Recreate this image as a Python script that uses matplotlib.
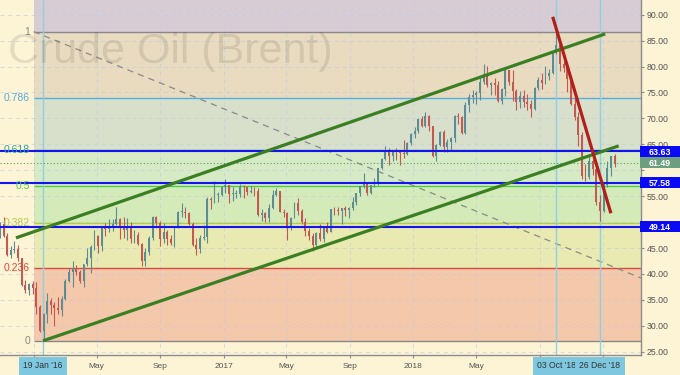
import numpy as np
import pandas as pd
import matplotlib
matplotlib.use('Agg')
import matplotlib.pyplot as plt
import matplotlib.dates as mdates
from matplotlib.patches import Rectangle
from matplotlib.transforms import blended_transform_factory

plt.rcParams['font.family'] = ['Liberation Sans', 'DejaVu Sans']

# ---------------- data ----------------
week_end = pd.date_range('2015-10-30', '2019-01-25', freq='W-FRI')

opens = [
    48.2, 49.6, 47.4, 43.6, 44.7, 44.9, 43.0, 37.9, 36.9,
    # 2016
    38.1, 37.3, 33.6, 28.9, 32.2, 34.7, 34.1, 33.4, 33.0, 35.1, 38.7, 40.4, 41.2,
    40.4, 38.7, 41.9, 43.1, 45.1, 47.4, 45.4, 48.8, 48.7, 49.3, 49.6, 50.5, 49.2,
    48.4, 49.0, 46.8, 47.6, 45.7, 42.5, 44.3, 47.0, 50.9, 49.9, 46.8, 48.0, 46.8,
    45.9, 49.1, 51.9, 52.0, 51.8, 49.7, 45.6, 44.8, 46.9, 47.2, 54.5, 54.3, 55.2, 55.2,
    # 2017
    56.8, 57.1, 55.5, 55.5, 55.5, 56.8, 56.7, 55.8, 56.0, 55.9, 51.4, 51.8, 50.8,
    52.8, 55.2, 55.9, 52.0, 51.7, 49.1, 50.8, 53.6, 52.2, 50.0, 48.2, 47.4, 45.5,
    47.9, 46.7, 48.9, 48.1, 52.5, 52.4, 52.1, 52.7, 52.4, 52.8, 53.8, 55.6, 56.9,
    57.5, 55.6, 57.2, 57.8, 60.4, 62.1, 63.5, 62.7, 63.9, 63.7, 63.4, 63.2, 65.3,
    # 2018
    66.9, 67.6, 69.9, 68.6, 70.5, 68.6, 62.8, 64.8, 67.3, 64.4, 65.5, 66.2, 70.5,
    70.3, 67.1, 72.6, 74.1, 74.6, 74.9, 77.1, 78.5, 76.4, 76.8, 76.5, 73.4, 75.6,
    79.4, 77.1, 75.3, 73.1, 74.3, 73.2, 72.8, 71.8, 75.8, 77.4, 76.8, 78.1, 78.8,
    82.7, 84.2, 80.4, 79.8, 77.6, 72.8, 70.2, 66.8, 58.8, 58.7, 61.7, 60.3, 53.8,
    # 2019
    52.2, 57.1, 60.5, 62.7,
]
highs = [
    50.1, 50.9, 47.8, 45.3, 46.4, 45.5, 43.0, 38.9, 38.2,
    38.6, 38.5, 34.0, 32.4, 36.3, 35.4, 34.5, 35.6, 35.8, 39.0, 41.2, 42.5, 41.7,
    40.8, 42.0, 45.0, 45.6, 48.5, 47.5, 48.9, 49.8, 50.5, 50.5, 52.9, 50.8, 51.0,
    50.8, 50.0, 48.5, 48.0, 46.0, 45.0, 47.3, 51.2, 51.2, 50.3, 49.9, 48.5, 47.6,
    49.3, 52.1, 53.7, 53.0, 52.0, 50.0, 46.9, 47.6, 49.5, 54.9, 54.9, 57.9, 55.8, 57.0,
    58.4, 57.1, 56.8, 56.2, 57.3, 57.1, 56.8, 57.0, 56.8, 56.6, 52.5, 52.0, 53.4,
    56.1, 56.6, 56.0, 52.6, 51.9, 51.0, 53.8, 54.7, 52.5, 50.7, 48.8, 47.8, 48.0,
    49.7, 49.0, 50.0, 52.6, 52.9, 53.0, 52.8, 53.1, 52.9, 54.9, 55.7, 57.0, 59.5,
    57.6, 57.2, 58.5, 60.5, 62.3, 64.6, 64.2, 64.0, 64.2, 64.0, 65.8, 65.5, 67.1,
    68.3, 70.1, 70.4, 71.3, 70.7, 68.6, 65.0, 67.5, 67.8, 66.1, 66.5, 70.6, 71.0,
    70.4, 73.1, 74.8, 75.5, 75.3, 78.0, 80.5, 80.2, 77.0, 77.7, 77.2, 75.8, 79.7,
    79.4, 79.4, 75.6, 75.3, 75.4, 74.8, 73.6, 76.0, 78.0, 78.8, 80.1, 79.6, 82.9,
    86.7, 85.2, 81.5, 80.6, 78.3, 73.9, 71.2, 67.4, 61.3, 63.0, 62.1, 60.8, 55.3,
    57.5, 61.7, 62.8, 63.1,
]
lows = [
    47.0, 47.2, 43.4, 43.0, 44.1, 42.5, 37.7, 36.3, 36.0,
    36.1, 32.2, 28.8, 27.1, 30.5, 32.2, 30.0, 32.2, 31.9, 35.0, 38.4, 37.5, 39.7,
    38.2, 37.5, 41.5, 40.1, 44.6, 44.0, 44.5, 47.3, 48.0, 48.3, 49.5, 46.8, 47.0,
    46.6, 46.0, 45.9, 45.6, 41.6, 41.5, 43.6, 46.6, 48.8, 45.3, 46.0, 45.6, 45.5,
    45.1, 48.8, 51.0, 50.7, 49.4, 45.3, 43.6, 44.0, 46.6, 45.9, 52.6, 53.7, 53.9, 55.0,
    55.7, 53.6, 54.1, 54.6, 54.8, 54.6, 55.2, 55.7, 55.1, 51.2, 50.3, 50.0, 50.1,
    52.6, 55.0, 51.9, 50.9, 46.6, 48.5, 50.7, 51.3, 49.7, 47.3, 46.6, 44.4, 45.1,
    46.4, 46.2, 47.9, 48.0, 51.3, 51.3, 49.7, 51.1, 50.7, 52.3, 53.3, 55.0, 56.6,
    55.3, 55.4, 56.8, 57.1, 60.2, 61.9, 61.1, 61.7, 62.0, 61.1, 62.3, 62.9, 64.9,
    66.3, 67.1, 68.3, 68.4, 67.6, 62.5, 61.8, 64.6, 63.6, 63.6, 63.7, 65.5, 68.9,
    66.9, 67.0, 71.2, 72.9, 72.7, 73.5, 76.6, 76.0, 74.5, 74.5, 73.1, 72.8, 74.3,
    76.5, 73.3, 71.6, 72.0, 72.2, 71.7, 70.3, 71.6, 75.5, 75.6, 76.6, 77.5, 78.6,
    82.5, 79.2, 78.9, 75.1, 72.5, 69.6, 64.6, 58.4, 58.0, 58.4, 59.1, 53.3, 50.3,
    52.0, 56.8, 58.8, 60.7,
]
closes = [
    49.6, 47.4, 43.6, 44.7, 44.9, 43.0, 37.9, 36.9, 38.1,
    37.3, 33.6, 28.9, 32.2, 34.7, 34.1, 33.4, 33.0, 35.1, 38.7, 40.4, 41.2, 40.4,
    38.7, 41.9, 43.1, 45.1, 47.4, 45.4, 48.8, 48.7, 49.3, 49.6, 50.5, 49.2, 48.4,
    49.0, 46.8, 47.6, 45.7, 42.5, 44.3, 47.0, 50.9, 49.9, 46.8, 48.0, 46.8, 45.9,
    49.1, 51.9, 52.0, 51.8, 49.7, 45.6, 44.8, 46.9, 47.2, 54.5, 54.3, 55.2, 55.2, 56.8,
    57.1, 55.5, 55.5, 55.5, 56.8, 56.7, 55.8, 56.0, 55.9, 51.4, 51.8, 50.8, 52.8,
    55.2, 55.9, 52.0, 51.7, 49.1, 50.8, 53.6, 52.2, 50.0, 48.2, 47.4, 45.5, 47.9,
    46.7, 48.9, 48.1, 52.5, 52.4, 52.1, 52.7, 52.4, 52.8, 53.8, 55.6, 56.9, 57.5,
    55.6, 57.2, 57.8, 60.4, 62.1, 63.5, 62.7, 63.9, 63.7, 63.4, 63.2, 65.3, 66.9,
    67.6, 69.9, 68.6, 70.5, 68.6, 62.8, 64.8, 67.3, 64.4, 65.5, 66.2, 70.5, 70.3,
    67.1, 72.6, 74.1, 74.6, 74.9, 77.1, 78.5, 76.4, 76.8, 76.5, 73.4, 75.6, 79.4,
    77.1, 75.3, 73.1, 74.3, 73.2, 72.8, 71.8, 75.8, 77.4, 76.8, 78.1, 78.8, 82.7,
    84.2, 80.4, 79.8, 77.6, 72.8, 70.2, 66.8, 58.8, 58.7, 61.7, 60.3, 53.8, 52.2,
    57.1, 60.5, 62.7, 61.49,
]

fib_low, fib_high = 27.10, 86.74
fib_ratios = [0, 0.236, 0.382, 0.5, 0.618, 0.786, 1]
fib_labels = ['0', '0.236', '0.382', '0.5', '0.618', '0.786', '1']
fib_start = '2016-01-01'

level_values = [63.63, 57.58, 49.14]
last_price = 61.49

lower_chan_x = ['2016-01-19', '2019-01-31']
lower_chan_y = [27.1, 64.7]
upper_chan_x = ['2015-11-28', '2019-01-05']
upper_chan_y = [46.95, 86.3]
red_x = ['2018-09-26', '2019-01-16']
red_y = [89.6, 51.7]
fib_trend_x = ['2016-01-01', '2019-03-15']
fib_trend_y = [86.74, 39.2]

marker_dates = ['2016-01-19', '2018-10-03', '2018-12-26']
marker_labels = ["19 Jan '16", "03 Oct '18", "26 Dec '18"]

month_ticks = ['2016-01-01', '2016-05-01', '2016-09-01', '2017-01-01', '2017-05-01',
               '2017-09-01', '2018-01-01', '2018-05-01', '2018-09-01', '2019-01-01']
month_labels = ['', 'May', 'Sep', '2017', 'May', 'Sep', '2018', 'May', '', '']

y_ticks = list(range(25, 95, 5))
y_tick_labels = ['' if v in (50, 60) else f'{v:.2f}' for v in y_ticks]

title_text = 'Crude Oil (Brent)'

# ---------------- style ----------------
BG = '#fdf3d5'
zone_colors = ['#f4c8aa', '#e8eab1', '#d4ebb9', '#d5eac5', '#d8e0cb', '#e8dbbf', '#d8ccd4']
fib_colors = ['#888888', '#e0483c', '#b2cd48', '#4ccc4c', '#2aa89a', '#55aede', '#888888']

W, H, DPI = 680, 375, 100
fig = plt.figure(figsize=(W / DPI, H / DPI), dpi=DPI, facecolor=BG)
ax_left, ax_right, ax_top, ax_bottom = 0, 641, 0, 355
ax = fig.add_axes([ax_left / W, 1 - ax_bottom / H, (ax_right - ax_left) / W, (ax_bottom - ax_top) / H])
ax.set_facecolor(BG)

d = lambda s: mdates.date2num(pd.Timestamp(s))
xmin, xmax = d('2015-10-28 06:00'), d('2019-03-14 22:00')
ymin, ymax = 24.36, 92.84
ax.set_xlim(xmin, xmax)
ax.set_ylim(ymin, ymax)

# zones
levels = [fib_low + r * (fib_high - fib_low) for r in fib_ratios]
bounds = levels + [200]
x0 = d(fib_start)
for i in range(len(levels)):
    ax.add_patch(Rectangle((x0, bounds[i]), xmax - x0 + 10, bounds[i + 1] - bounds[i],
                           facecolor=zone_colors[i], edgecolor='none', zorder=0.5))

# grid
gcol = '#c2c8e2'
for yv in y_ticks:
    ax.axhline(yv, color=gcol, lw=0.7, ls=(0, (4, 4)), alpha=0.6, zorder=0.8)
for m in month_ticks:
    ax.axvline(d(m), color=gcol, lw=0.7, ls=(0, (4, 4)), alpha=0.6, zorder=0.8)

# fib lines & labels
tr_fy = blended_transform_factory(fig.transFigure, ax.transData)
for lv, lab, col in zip(levels, fib_labels, fib_colors):
    ax.hlines(lv, x0, xmax, color=col, lw=1.0, zorder=1)
    ax.text(30 / W, lv, lab, transform=tr_fy, ha='right', va='center',
            fontsize=7.5, color=col, zorder=5)

# dashed fib trend
ax.plot([d(s) for s in fib_trend_x], fib_trend_y, color='#8a8a8a', lw=0.9,
        ls=(0, (5, 4)), zorder=1.2)

# vertical marker lines
for m in marker_dates:
    ax.axvline(d(m), color='#8fd0e2', lw=1.0, zorder=1.5)

# candles
xc = mdates.date2num(week_end) - 2
o = np.array(opens); h = np.array(highs); l = np.array(lows); c = np.array(closes)
up = c >= o
up_col, dn_col = '#5e8c94', '#c25a52'
cols = np.where(up, up_col, dn_col)
ax.vlines(xc, l, h, colors=cols, lw=0.8, zorder=2)
body_lo = np.minimum(o, c)
body_h = np.maximum(np.abs(c - o), 0.15)
ax.bar(xc, body_h, bottom=body_lo, width=3.6, color=cols, linewidth=0, zorder=2.1)

# last price dotted line
ax.axhline(last_price, color='#5a9a70', lw=0.8, ls=(0, (1, 2)), zorder=2.5)

# blue levels
for v in level_values:
    ax.axhline(v, color='#1414ee', lw=1.5, zorder=3)

# channels
ax.plot([d(s) for s in lower_chan_x], lower_chan_y, color='#3b7f23', lw=2.3,
        solid_capstyle='butt', zorder=4)
ax.plot([d(s) for s in upper_chan_x], upper_chan_y, color='#3b7f23', lw=2.3,
        solid_capstyle='butt', zorder=4)
ax.plot([d(s) for s in red_x], red_y, color='#b21f1a', lw=2.3,
        solid_capstyle='butt', zorder=4)

# axes styling
for s in ['left', 'top']:
    ax.spines[s].set_visible(False)
for s in ['right', 'bottom']:
    ax.spines[s].set_color('#8c8c8c')
    ax.spines[s].set_linewidth(1.0)
ax.yaxis.tick_right()
ax.set_yticks(y_ticks)
ax.set_yticklabels(y_tick_labels)
ax.tick_params(axis='y', colors='#8c8c8c', labelcolor='#555555', labelsize=6.3,
               length=2.5, width=0.8, pad=1.5)
ax.set_xticks([d(m) for m in month_ticks])
ax.set_xticklabels(month_labels)
ax.tick_params(axis='x', colors='#8c8c8c', labelcolor='#555555', labelsize=6,
               length=2.5, width=0.8, pad=3.5)

# right-side value boxes
for v, fc in [(63.63, '#0a0af5'), (57.58, '#0a0af5'), (49.14, '#0a0af5'), (last_price, '#6d9e80')]:
    ax.add_patch(Rectangle((640 / W, v - 1.05), 40 / W, 2.1, transform=tr_fy,
                           facecolor=fc, edgecolor='none', clip_on=False, zorder=10))
    ax.text(660 / W, v, f'{v:.2f}', transform=tr_fy, ha='center', va='center_baseline',
            fontsize=6.4, fontweight='bold', color='white', zorder=11, clip_on=False)

# date boxes under the axis
tr_xa = blended_transform_factory(ax.transData, ax.transAxes)
for m, lab in zip(marker_dates, marker_labels):
    ax.text(d(m), -11 / (ax_bottom - ax_top), lab, transform=tr_xa, ha='center', va='center',
            fontsize=6.2, color='#333333', zorder=11, clip_on=False,
            bbox=dict(boxstyle='square,pad=0.5', facecolor='#7dc8de', edgecolor='none'))

# watermark
fig.text(170 / W, 1 - 63 / H, title_text, ha='center', va='baseline', fontsize=31,
         color='#333333', alpha=0.12, family=['Liberation Sans', 'DejaVu Sans'])

fig.savefig('out.png', dpi=DPI, facecolor=BG)
